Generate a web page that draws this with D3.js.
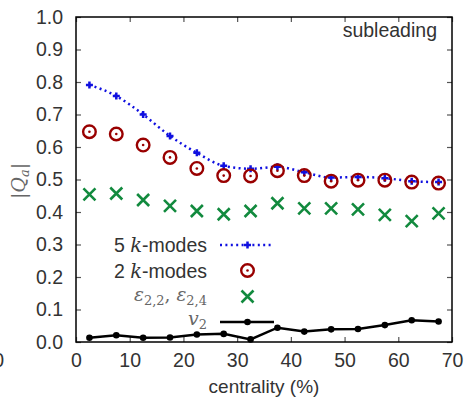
<!DOCTYPE html>
<html>
<head>
<meta charset="utf-8">
<script src="https://cdn.jsdelivr.net/npm/d3@7"></script>
<style>
  body { margin: 0; background: #fff; }
  text { font-family: "Liberation Sans", Arial, sans-serif; }
</style>
</head>
<body>
<div id="graph"></div>
<script>
// data
var centrality = [2.5, 7.5, 12.5, 17.5, 22.5, 27.5, 32.5, 37.5, 42.5, 47.5, 52.5, 57.5, 62.5, 67.5];
var fiveModes = [0.791, 0.757, 0.700, 0.634, 0.582, 0.542, 0.533, 0.539, 0.522, 0.506, 0.508, 0.504, 0.495, 0.492];
var twoModes = [0.647, 0.640, 0.606, 0.568, 0.534, 0.512, 0.511, 0.527, 0.512, 0.495, 0.498, 0.498, 0.492, 0.489];
var eps = [0.454, 0.457, 0.437, 0.419, 0.403, 0.393, 0.403, 0.427, 0.411, 0.411, 0.408, 0.391, 0.372, 0.396];
var v2 = [0.013, 0.021, 0.013, 0.014, 0.023, 0.025, 0.008, 0.044, 0.032, 0.039, 0.040, 0.052, 0.067, 0.063];
var xTicks = [0, 10, 20, 30, 40, 50, 60, 70];
var yTicks = [0, 0.1, 0.2, 0.3, 0.4, 0.5, 0.6, 0.7, 0.8, 0.9, 1.0];

var chart_width = 468;
var chart_height = 402;
var plotL = 76, plotR = 452, plotT = 17, plotB = 342;

var blue = '#1010e0';
var red = '#990000';
var green = '#128a3e';
var textCol = '#333';

var x_scale = d3.scaleLinear().domain([0, 70]).range([plotL, plotR]);
var y_scale = d3.scaleLinear().domain([0, 1]).range([plotB, plotT]);

var svg = d3.select('#graph').append('svg')
  .attr('width', chart_width)
  .attr('height', chart_height);

// axes (ticks point inward, mirrored on the opposite sides)
var axisStyle = function (g) {
  g.select('.domain').remove();
  g.selectAll('.tick line').attr('stroke', '#555').attr('stroke-width', 1.2);
  g.selectAll('.tick text').attr('fill', textCol).style('font-size', '19.5px');
};

svg.append('g')
  .attr('transform', 'translate(0,' + plotB + ')')
  .call(d3.axisBottom(x_scale).tickValues(xTicks).tickSize(-5).tickPadding(11))
  .call(axisStyle);
svg.append('g')
  .attr('transform', 'translate(0,' + plotT + ')')
  .call(d3.axisTop(x_scale).tickValues(xTicks).tickSize(-5).tickFormat(''))
  .call(axisStyle);
svg.append('g')
  .attr('transform', 'translate(' + plotL + ',0)')
  .call(d3.axisLeft(y_scale).tickValues(yTicks).tickSize(-5).tickPadding(13).tickFormat(d3.format('.1f')))
  .call(axisStyle);
svg.append('g')
  .attr('transform', 'translate(' + plotR + ',0)')
  .call(d3.axisRight(y_scale).tickValues(yTicks).tickSize(-5).tickFormat(''))
  .call(axisStyle);

svg.append('rect')
  .attr('x', plotL).attr('y', plotT)
  .attr('width', plotR - plotL).attr('height', plotB - plotT)
  .attr('fill', 'none').attr('stroke', '#000').attr('stroke-width', 1.5);

// stray label from the neighbouring panel
svg.append('text').attr('x', 4).attr('y', 367).attr('text-anchor', 'end')
  .attr('fill', textCol).style('font-size', '19.5px').text('70');

// axis titles
svg.append('text')
  .attr('x', (plotL + plotR) / 2).attr('y', 393)
  .attr('text-anchor', 'middle').attr('fill', textCol)
  .style('font-size', '19px').text('centrality (%)');

var ylab = svg.append('text')
  .attr('transform', 'translate(25,181) rotate(-90)')
  .attr('text-anchor', 'middle').attr('fill', '#666')
  .style('font-family', '"DejaVu Serif", serif').style('font-size', '19px');
ylab.append('tspan').text('|');
ylab.append('tspan').style('font-style', 'italic').text('Q');
ylab.append('tspan').style('font-style', 'italic').style('font-size', '13px').attr('dy', 4).text('a');
ylab.append('tspan').attr('dy', -4).text('|');

svg.append('text')
  .attr('x', 437).attr('y', 37).attr('text-anchor', 'end')
  .attr('fill', textCol).style('font-size', '19.5px').text('subleading');

var pts = function (vals) {
  return vals.map(function (v, i) { return { x: centrality[i], y: v }; });
};

var plusPath = function (s) {
  return 'M' + (-s) + ',0H' + s + 'M0,' + (-s) + 'V' + s;
};
var crossPath = function (s) {
  return 'M' + (-s) + ',' + (-s) + 'L' + s + ',' + s + 'M' + (-s) + ',' + s + 'L' + s + ',' + (-s);
};

// 5 k-modes: smooth dotted curve with plus markers
var smooth = d3.line()
  .x(function (d) { return x_scale(d.x); })
  .y(function (d) { return y_scale(d.y); })
  .curve(d3.curveMonotoneX);

svg.append('path')
  .attr('d', smooth(pts(fiveModes)))
  .attr('fill', 'none').attr('stroke', blue)
  .attr('stroke-width', 2.5).attr('stroke-dasharray', '2,3.4');

svg.selectAll('.plus').data(pts(fiveModes)).enter().append('path')
  .attr('class', 'plus')
  .attr('transform', function (d) { return 'translate(' + x_scale(d.x) + ',' + y_scale(d.y) + ')'; })
  .attr('d', plusPath(3.5))
  .attr('stroke', blue).attr('stroke-width', 2.5);

// 2 k-modes: dotted circles
var circ = svg.selectAll('.circ').data(pts(twoModes)).enter().append('g')
  .attr('class', 'circ')
  .attr('transform', function (d) { return 'translate(' + x_scale(d.x) + ',' + y_scale(d.y) + ')'; });
circ.append('circle').attr('r', 6.3).attr('fill', 'none').attr('stroke', red).attr('stroke-width', 2.4);
circ.append('circle').attr('r', 1.3).attr('fill', red);

// eccentricities: crosses
svg.selectAll('.cross').data(pts(eps)).enter().append('path')
  .attr('class', 'cross')
  .attr('transform', function (d) { return 'translate(' + x_scale(d.x) + ',' + y_scale(d.y) + ')'; })
  .attr('d', crossPath(6))
  .attr('stroke', green).attr('stroke-width', 2.6);

// v2: solid black line with dots
var straight = d3.line()
  .x(function (d) { return x_scale(d.x); })
  .y(function (d) { return y_scale(d.y); });

svg.append('path')
  .attr('d', straight(pts(v2)))
  .attr('fill', 'none').attr('stroke', '#000').attr('stroke-width', 2.5);
svg.selectAll('.dot').data(pts(v2)).enter().append('circle')
  .attr('class', 'dot')
  .attr('cx', function (d) { return x_scale(d.x); })
  .attr('cy', function (d) { return y_scale(d.y); })
  .attr('r', 3.3).attr('fill', '#000');

// legend
var legX = 207, sampleL = 220, sampleR = 273, sampleM = 247.5;
var rows = [245, 270.5, 296.5, 322];

var kLabel = function (y, n) {
  var t = svg.append('text').attr('x', legX).attr('y', y + 7).attr('text-anchor', 'end')
    .attr('fill', textCol).style('font-size', '19.5px');
  t.append('tspan').text(n + ' ');
  t.append('tspan').style('font-family', '"DejaVu Serif", serif').style('font-style', 'italic').text('k');
  t.append('tspan').text('-modes');
};
kLabel(rows[0], '5');
kLabel(rows[1], '2');

svg.append('line').attr('x1', sampleL).attr('x2', sampleR).attr('y1', rows[0]).attr('y2', rows[0])
  .attr('stroke', blue).attr('stroke-width', 2.5).attr('stroke-dasharray', '2,3.4');
svg.append('path').attr('transform', 'translate(' + sampleM + ',' + rows[0] + ')')
  .attr('d', plusPath(3.5)).attr('stroke', blue).attr('stroke-width', 2.5);

svg.append('circle').attr('cx', sampleM).attr('cy', rows[1]).attr('r', 6.3)
  .attr('fill', 'none').attr('stroke', red).attr('stroke-width', 2.4);
svg.append('circle').attr('cx', sampleM).attr('cy', rows[1]).attr('r', 1.3).attr('fill', red);

var epsT = svg.append('text').attr('x', legX).attr('y', rows[2] + 4).attr('text-anchor', 'end')
  .attr('fill', '#666').style('font-family', '"DejaVu Serif", serif').style('font-size', '18.5px');
epsT.append('tspan').style('font-style', 'italic').text('ε');
epsT.append('tspan').style('font-size', '13px').attr('dy', 4).text('2,2');
epsT.append('tspan').attr('dy', -4).text(', ');
epsT.append('tspan').style('font-style', 'italic').text('ε');
epsT.append('tspan').style('font-size', '13px').attr('dy', 4).text('2,4');

svg.append('path').attr('transform', 'translate(' + sampleM + ',' + rows[2] + ')')
  .attr('d', crossPath(6)).attr('stroke', green).attr('stroke-width', 2.6);

var v2T = svg.append('text').attr('x', legX).attr('y', rows[3] + 3).attr('text-anchor', 'end')
  .attr('fill', '#666').style('font-family', '"DejaVu Serif", serif').style('font-size', '19px');
v2T.append('tspan').style('font-style', 'italic').text('v');
v2T.append('tspan').style('font-size', '13px').attr('dy', 4).text('2');

svg.append('line').attr('x1', sampleL).attr('x2', sampleR + 1).attr('y1', rows[3]).attr('y2', rows[3])
  .attr('stroke', '#000').attr('stroke-width', 2.5);
svg.append('circle').attr('cx', sampleM).attr('cy', rows[3]).attr('r', 3.3).attr('fill', '#000');
</script>
</body>
</html>
